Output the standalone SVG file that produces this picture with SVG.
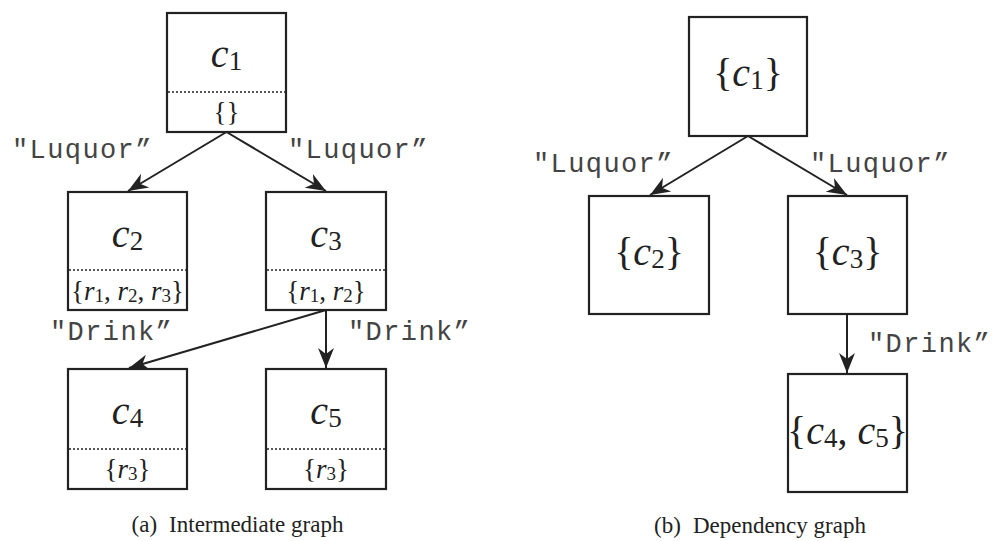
<svg xmlns="http://www.w3.org/2000/svg" width="994" height="541" viewBox="0 0 994 541">
<defs>
<style>
.box{fill:#fff;stroke:#222;stroke-width:2.2}
.dot{stroke:#222;stroke-width:1.6;stroke-dasharray:2 2}
.edge{stroke:#222;stroke-width:2;fill:none;marker-end:url(#arr)}
.m{font-family:"Liberation Serif","Times New Roman",serif;fill:#222}
.big{font-size:40px}
.small{font-size:27px}
.i{font-style:italic}
.lbl{font-family:"Liberation Mono","Courier New",monospace;font-size:27px;letter-spacing:1.4px;fill:#444}
.cap{font-family:"Liberation Serif","Times New Roman",serif;font-size:23px;fill:#222}
</style>
<marker id="arr" markerUnits="userSpaceOnUse" markerWidth="26" markerHeight="22" viewBox="-22 -11 26 22" refX="0" refY="0" orient="auto">
<path d="M0,0 L-20,-8 L-14,0 L-20,8 Z" fill="#222"/>
</marker>
</defs>
<rect width="994" height="541" fill="#fff"/>

<g id="connectors">
<line class="edge" x1="226.5" y1="132" x2="128" y2="191"/>
<line class="edge" x1="226.5" y1="132" x2="326" y2="191"/>
<line class="edge" x1="326" y1="310" x2="129" y2="368"/>
<line class="edge" x1="326" y1="310" x2="326" y2="368"/>
<line class="edge" x1="748" y1="136" x2="650" y2="195"/>
<line class="edge" x1="748" y1="136" x2="847" y2="195"/>
<line class="edge" x1="847" y1="314" x2="847" y2="373"/>
<text class="lbl" x="12" y="158">"Luquor”</text>
<text class="lbl" x="288" y="158">"Luquor”</text>
<text class="lbl" x="50" y="340">"Drink”</text>
<text class="lbl" x="348" y="340">"Drink”</text>
<text class="lbl" x="533" y="172">"Luquor”</text>
<text class="lbl" x="810" y="172">"Luquor”</text>
<text class="lbl" x="868" y="352">"Drink”</text>
</g>

<g id="a_c1">
<rect class="box" x="167" y="13" width="119" height="119"/>
<line class="dot" x1="168" y1="92" x2="285" y2="92"/>
<text class="m big" x="226.5" y="67" text-anchor="middle"><tspan class="i">c</tspan><tspan font-size="27" dy="3">1</tspan></text>
<text class="m small" x="226.5" y="121" text-anchor="middle">{}</text>
</g>
<g id="a_c2">
<rect class="box" x="68" y="192" width="119" height="118"/>
<line class="dot" x1="69" y1="270" x2="186" y2="270"/>
<text class="m big" x="127.5" y="247" text-anchor="middle"><tspan class="i">c</tspan><tspan font-size="27" dy="3">2</tspan></text>
<text class="m small" x="127.5" y="300" text-anchor="middle">{<tspan class="i">r</tspan><tspan font-size="19" dy="2">1</tspan><tspan dy="-2">, </tspan><tspan class="i">r</tspan><tspan font-size="19" dy="2">2</tspan><tspan dy="-2">, </tspan><tspan class="i">r</tspan><tspan font-size="19" dy="2">3</tspan><tspan dy="-2">}</tspan></text>
</g>
<g id="a_c3">
<rect class="box" x="266" y="192" width="120" height="118"/>
<line class="dot" x1="267" y1="270" x2="385" y2="270"/>
<text class="m big" x="326" y="247" text-anchor="middle"><tspan class="i">c</tspan><tspan font-size="27" dy="3">3</tspan></text>
<text class="m small" x="326" y="300" text-anchor="middle">{<tspan class="i">r</tspan><tspan font-size="19" dy="2">1</tspan><tspan dy="-2">, </tspan><tspan class="i">r</tspan><tspan font-size="19" dy="2">2</tspan><tspan dy="-2">}</tspan></text>
</g>
<g id="a_c4">
<rect class="box" x="68" y="369" width="119" height="120"/>
<line class="dot" x1="69" y1="449" x2="186" y2="449"/>
<text class="m big" x="127.5" y="424" text-anchor="middle"><tspan class="i">c</tspan><tspan font-size="27" dy="3">4</tspan></text>
<text class="m small" x="127.5" y="478" text-anchor="middle">{<tspan class="i">r</tspan><tspan font-size="19" dy="2">3</tspan><tspan dy="-2">}</tspan></text>
</g>
<g id="a_c5">
<rect class="box" x="266" y="369" width="120" height="120"/>
<line class="dot" x1="267" y1="449" x2="385" y2="449"/>
<text class="m big" x="326" y="424" text-anchor="middle"><tspan class="i">c</tspan><tspan font-size="27" dy="3">5</tspan></text>
<text class="m small" x="326" y="478" text-anchor="middle">{<tspan class="i">r</tspan><tspan font-size="19" dy="2">3</tspan><tspan dy="-2">}</tspan></text>
</g>

<g id="b_c1">
<rect class="box" x="689" y="17" width="118" height="119"/>
<text class="m big" x="748" y="86" text-anchor="middle">{<tspan class="i">c</tspan><tspan font-size="27" dy="3">1</tspan><tspan dy="-3">}</tspan></text>
</g>
<g id="b_c2">
<rect class="box" x="589" y="196" width="120" height="118"/>
<text class="m big" x="649" y="265" text-anchor="middle">{<tspan class="i">c</tspan><tspan font-size="27" dy="3">2</tspan><tspan dy="-3">}</tspan></text>
</g>
<g id="b_c3">
<rect class="box" x="788" y="196" width="119" height="118"/>
<text class="m big" x="847.5" y="265" text-anchor="middle">{<tspan class="i">c</tspan><tspan font-size="27" dy="3">3</tspan><tspan dy="-3">}</tspan></text>
</g>
<g id="b_c45">
<rect class="box" x="788" y="374" width="119" height="118"/>
<text class="m big" x="847.5" y="444" text-anchor="middle">{<tspan class="i">c</tspan><tspan font-size="27" dy="3">4</tspan><tspan dy="-3">, </tspan><tspan class="i">c</tspan><tspan font-size="27" dy="3">5</tspan><tspan dy="-3">}</tspan></text>
</g>

<text class="cap" x="237.5" y="532" text-anchor="middle">(a)<tspan dx="12">Intermediate graph</tspan></text>
<text class="cap" x="760" y="533" text-anchor="middle">(b)<tspan dx="12">Dependency graph</tspan></text>
</svg>
